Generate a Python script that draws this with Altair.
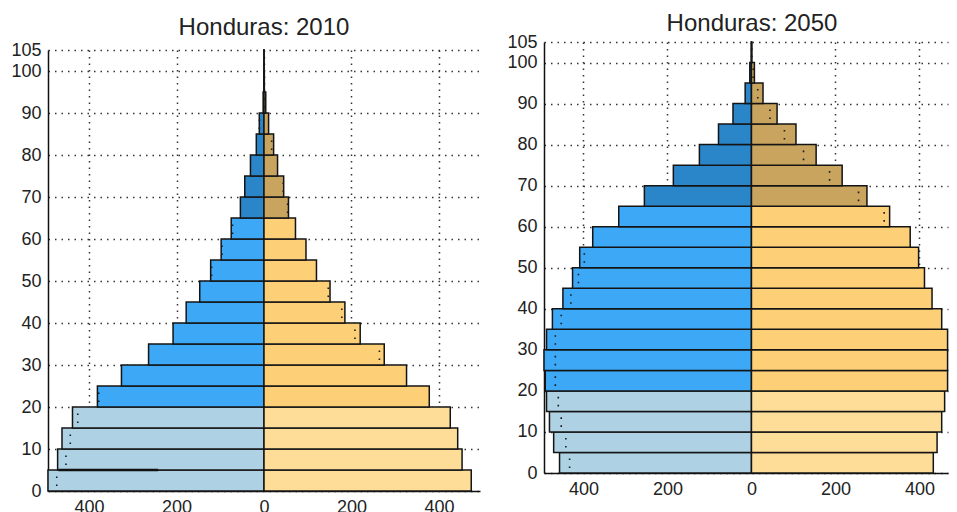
import altair as alt
import pandas as pd

# age groups: 0-4, 5-9, ..., 95-99, 100+
age_start = list(range(0, 105, 5))

male_2010 = [494, 472, 462, 438, 381, 326, 264, 208, 178, 147, 122, 98, 75, 54, 44, 31, 17.6, 10.8, 2, 0.6, 0.2]
female_2010 = [474, 453, 443, 426, 378, 326, 275, 220, 185, 151, 120, 96, 72, 56, 45, 31, 22, 10.5, 4, 0.8, 0.3]

male_2050 = [457, 471, 481, 488, 491, 494, 488, 474, 449, 426, 409, 378, 316, 255, 186, 124, 78.5, 44, 15, 4, 0.5]
female_2050 = [433, 442, 453, 460, 467, 467, 467, 453, 430, 412, 398, 378, 329, 275, 216, 154, 106, 61, 27.5, 7, 1]

# odd solid stroke seen in the 2010 pyramid along the top of the 0-4 male bar
stroke_2010 = [-470, -242]
stroke_2010_age = 5

y_ticks = [0, 10, 20, 30, 40, 50, 60, 70, 80, 90, 100, 105]
x_ticks = [-400, -200, 0, 200, 400]

keys = ["M-young", "M-adult", "M-old", "F-young", "F-adult", "F-old"]
colors = ["#aed2e3", "#3ca8f6", "#2a86c8", "#fedd98", "#fdd077", "#c9a45e"]

FONT = "Liberation Sans"


def band(a):
    if a < 20:
        return "young"
    if a < 65:
        return "adult"
    return "old"


def frames(male, female):
    rows, dots = [], []
    for a, m, f in zip(age_start, male, female):
        rows.append(dict(age=a, age_end=a + 5, x=-m, x2=0, key="M-" + band(a)))
        rows.append(dict(age=a, age_end=a + 5, x=0, x2=f, key="F-" + band(a)))
        if f < m:
            dots.append(dict(age=a, age_end=a + 5, x=-f))
        elif m < f:
            dots.append(dict(age=a, age_end=a + 5, x=m))
    return pd.DataFrame(rows), pd.DataFrame(dots)


def title_params(text, offset, dx=0):
    return alt.TitleParams(text, fontSize=24, font=FONT, fontWeight="normal",
                           color="#222", offset=offset, dx=dx)


def panel(male, female, width, height, xdom, title=None, extra_df=None):
    bars_df, dots_df = frames(male, female)
    xs = alt.Scale(domain=xdom, nice=False, zero=False)
    ys = alt.Scale(domain=[0, 105], nice=False, zero=False)
    xaxis = alt.Axis(values=x_ticks, labelExpr="abs(datum.value)", title=None,
                     labelOverlap=False)
    yaxis = alt.Axis(values=y_ticks, title=None, minExtent=40, maxExtent=40,
                     labelOverlap=False)

    def X(field):
        return alt.X(field, scale=xs, axis=xaxis)

    def Y(field):
        return alt.Y(field, scale=ys, axis=yaxis)

    bars = alt.Chart(bars_df).mark_rect(stroke="#141414", strokeWidth=1.5).encode(
        x=X("x:Q"),
        x2="x2:Q",
        y=Y("age:Q"),
        y2="age_end:Q",
        color=alt.Color("key:N", scale=alt.Scale(domain=keys, range=colors), legend=None),
    )
    dots = alt.Chart(dots_df).mark_rule(
        strokeDash=[1.6, 6.4], strokeDashOffset=3, strokeWidth=1.6, color="#1a1a1a"
    ).encode(x=X("x:Q"), y=Y("age:Q"), y2="age_end:Q")
    layers = [bars, dots]
    if extra_df is not None:
        layers.append(
            alt.Chart(extra_df).mark_rule(strokeWidth=2.5, color="#111").encode(
                x=X("x:Q"), x2="x2:Q", y=Y("age:Q")
            )
        )
    ch = alt.layer(*layers).properties(width=width, height=height)
    if title is not None:
        ch = ch.properties(title=title)
    return ch


extra_df = pd.DataFrame({"x": [stroke_2010[0]], "x2": [stroke_2010[1]], "age": [stroke_2010_age]})

# thin invisible strip that carries the 2010 title and drops that panel a little lower
spacer = alt.Chart(pd.DataFrame({"v": [0]})).mark_point(opacity=0, size=1).encode(
    x=alt.X("v:Q", axis=None), y=alt.Y("v:Q", axis=None)
).properties(width=432, height=8, title=title_params("Honduras: 2010", 2))

left = alt.vconcat(
    spacer,
    panel(male_2010, female_2010, 432, 441, [-494, 494], extra_df=extra_df),
    spacing=0,
    bounds="flush",
)
right = panel(male_2050, female_2050, 404, 431, [-494, 468],
              title=title_params("Honduras: 2050", -3, dx=6))

chart = (
    alt.hconcat(left, right, spacing=24,
                padding={"left": 0, "top": 4, "right": 0, "bottom": 0})
    .configure_view(stroke=None)
    .configure_axis(
        grid=True,
        gridColor="#333333",
        gridDash=[1.5, 5],
        gridWidth=1.5,
        gridOpacity=1,
        domainColor="#111111",
        domainWidth=1.5,
        ticks=False,
        labelFont=FONT,
        labelFontSize=18,
        labelColor="#222222",
        labelPadding=7,
        labelOverlap=False,
    )
)

chart.save("out.html", embed_options={"renderer": "svg", "actions": False})
